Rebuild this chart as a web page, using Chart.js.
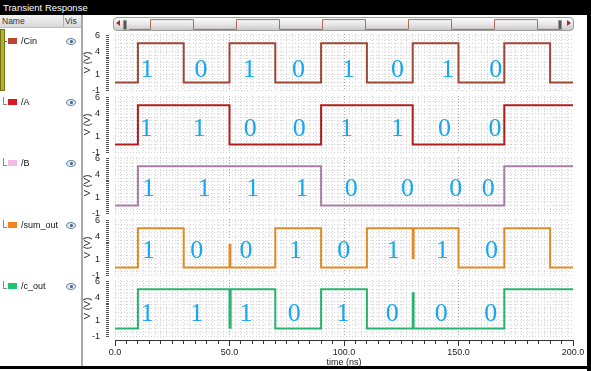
<!DOCTYPE html>
<html>
<head>
<meta charset="utf-8">
<title>Transient Response</title>
<script src="https://cdn.jsdelivr.net/npm/chart.js@4.4.1/dist/chart.umd.min.js"></script>
<style>
  html, body { margin: 0; padding: 0; background: #fff; overflow: hidden; }
  #page { position: relative; width: 591px; height: 371px; font-family: "Liberation Sans", Arial, sans-serif; }
  #page > * { position: absolute; }
  #titlebar { left: 0; top: 0; width: 591px; height: 15px; background: #000; color: #fff; font-size: 9.5px; line-height: 15px; text-indent: 3px; }
  #namehdr { left: 0; top: 15px; width: 81px; height: 12px; background: linear-gradient(#f4f4f4, #d8d8d8); border-bottom: 1px solid #bdbdbd; font-size: 8.5px; color: #333; }
  #namehdr span { position: absolute; top: 1px; }
  #namehdr .div { position: absolute; left: 63px; top: 0; width: 1px; height: 12px; background: #b0b0b0; }
  #sep { left: 81px; top: 15px; width: 2px; height: 351px; background: #a9a9a9; }
  #olive { left: 0; top: 29px; width: 3px; height: 60px; background: #b3b32c; border: 1px solid #74741a; }
  .row { left: 0; width: 80px; height: 12px; font-size: 9px; color: #111; }
  .row span { position: absolute; }
  .tree { left: 3px; top: 0; width: 3px; height: 7px; border-left: 1px solid #888; border-bottom: 1px solid #888; }
  .dash { left: 5px; top: 5px; width: 2px; height: 1px; background: #666; }
  .sw { left: 8px; top: 2px; width: 9px; height: 6px; }
  .nm { left: 21px; top: 0; line-height: 11px; }
  .eye { left: 66px; top: 2px; width: 8px; height: 5px; border: 1px solid #6f87a3; border-radius: 50%; background: #dfe8f2; }
  .eye::after { content: ""; position: absolute; left: 2.5px; top: 1px; width: 3px; height: 3px; border-radius: 50%; background: #45607e; }
  #scroll { left: 113px; top: 17px; width: 459px; height: 12px; border: 1px solid #9c9c9c; border-radius: 4px; background: linear-gradient(#fcfcfc, #e6e6e6 55%, #c9c9c9); }
  .arrowL { left: 116px; top: 20px; width: 0; height: 0; border-top: 3px solid transparent; border-bottom: 3px solid transparent; border-right: 4px solid #c02020; }
  .arrowR { left: 567px; top: 20px; width: 0; height: 0; border-top: 3px solid transparent; border-bottom: 3px solid transparent; border-left: 4px solid #c02020; }
  .grip { top: 20px; width: 2px; height: 8px; background: #555; border: 1px solid #999; }
  #rborder { left: 587px; top: 0; width: 4px; height: 371px; background: #000; }
  #bborder { left: 0; top: 366px; width: 591px; height: 3px; background: #000; }
  canvas { position: absolute; }
</style>
</head>
<body>
<div id="page">
  <div id="titlebar">Transient Response</div>
  <div id="namehdr"><span style="left:2px">Name</span><div class="div"></div><span style="left:65px">Vis</span></div>
  <div id="sep"></div>
  <div id="olive"></div>
  <div id="scroll"></div>
  <div class="arrowL"></div>
  <div class="grip" style="left:123px"></div>
  <div class="grip" style="left:558px"></div>
  <div class="arrowR"></div>
  <canvas id="mini" width="430" height="11" style="left:129px; top:19px"></canvas>
  <div id="rborder"></div>
  <div id="bborder"></div>
</div>
<script>
const timeRange = [0, 200];
const yTickLabels = [6, 4, 1, -1];
const xTickLabels = [0, 50, 100, 150, 200];
const signalNames = ['/Cin', '/A', '/B', '/sum_out', '/c_out'];

// each waveform: the time (ns) where the level changes, and the level (V) from then on
const cinTime = [0, 10, 30, 50, 70, 90, 110, 130, 150, 170, 190, 200];
const cinVolt = [0, 5, 0, 5, 0, 5, 0, 5, 0, 5, 0, 0];
const aTime = [0, 10, 50, 90, 130, 170, 200];
const aVolt = [0, 5, 0, 5, 0, 5, 5];
const bTime = [0, 10, 90, 170, 200];
const bVolt = [0, 5, 0, 5, 5];
const sumTime = [0, 10, 30, 50, 50.4, 70, 90, 110, 130, 130.4, 150, 170, 190, 200];
const sumVolt = [0, 5, 0, 2.9, 0, 5, 0, 5, 1.2, 5, 0, 5, 0, 0];
const coutTime = [0, 10, 50, 50.5, 70, 90, 110, 130, 130.4, 170, 200];
const coutVolt = [0, 5, 0.1, 5, 0, 5, 0, 4.5, 0, 5, 5];

// bits written over each trace and the time (ns) they sit at
const cinBits = ['1', '0', '1', '0', '1', '0', '1', '0'];
const cinBitTime = [14.0, 37.6, 58.6, 80.1, 102.0, 123.4, 145.3, 166.3];
const aBits = ['1', '1', '0', '0', '1', '1', '0', '0'];
const aBitTime = [13.6, 36.8, 59.1, 80.5, 101.1, 123.4, 143.9, 165.9];
const bBits = ['1', '1', '1', '1', '0', '0', '0', '0'];
const bBitTime = [14.6, 39.0, 60.1, 81.7, 103.2, 127.7, 148.8, 163.0];
const sumBits = ['1', '0', '0', '1', '0', '1', '1', '0'];
const sumBitTime = [14.6, 35.7, 57.2, 78.8, 99.9, 121.5, 142.9, 164.4];
const coutBits = ['1', '1', '1', '0', '1', '0', '0', '0'];
const coutBitTime = [14.1, 35.7, 57.2, 78.3, 99.6, 121.1, 142.5, 164.1];

Chart.defaults.font.family = '"Liberation Sans", Arial, sans-serif';
Chart.defaults.color = '#222';

const panels = [
  { t: cinTime, v: cinVolt, bits: cinBits, bitT: cinBitTime, line: '#9d4636', swatch: '#b9442f', level: 1.85 },
  { t: aTime, v: aVolt, bits: aBits, bitT: aBitTime, line: '#b01c1c', swatch: '#d61a1f', level: 2.25 },
  { t: bTime, v: bVolt, bits: bBits, bitT: bBitTime, line: '#a97ba6', swatch: '#f3bde3', level: 2.35 },
  { t: sumTime, v: sumVolt, bits: sumBits, bitT: sumBitTime, line: '#e08a25', swatch: '#f28420', level: 2.35 },
  { t: coutTime, v: coutVolt, bits: coutBits, bitT: coutBitTime, line: '#27b36c', swatch: '#1fc46e', level: 2.15 }
];

const bitLabelPlugin = {
  id: 'bitLabels',
  afterDatasetsDraw(chart, args, opts) {
    const { ctx, scales: { x, y } } = chart;
    ctx.save();
    ctx.font = '26px "Liberation Serif", serif';
    ctx.fillStyle = '#17a6ef';
    ctx.textAlign = 'center';
    ctx.textBaseline = 'alphabetic';
    opts.bits.forEach((b, k) => {
      ctx.fillText(b, x.getPixelForValue(opts.times[k]), y.getPixelForValue(opts.level) + 9);
    });
    ctx.restore();
  }
};

const page = document.getElementById('page');
const chartTops = [34, 96, 157, 219, 280];
const rowTops = [36, 97, 158, 220, 281];

panels.forEach((p, i) => {
  // name column
  const row = document.createElement('div');
  row.className = 'row';
  row.style.top = rowTops[i] + 'px';
  row.innerHTML = (i > 0 ? '<span class="tree"></span>' : '<span class="dash"></span>') +
    '<span class="sw" style="background:' + p.swatch + '"></span>' +
    '<span class="nm">' + signalNames[i] + '</span><span class="eye"></span>';
  page.appendChild(row);

  const cv = document.createElement('canvas');
  cv.width = 493; cv.height = 73;
  cv.style.left = '80px';
  cv.style.top = (chartTops[i] - 8) + 'px';
  page.appendChild(cv);

  new Chart(cv, {
    type: 'line',
    data: {
      datasets: [{
        data: p.t.map((t, k) => ({ x: t, y: p.v[k] })),
        borderColor: p.line,
        borderWidth: 2,
        pointRadius: 0,
        stepped: true,
        fill: false
      }]
    },
    options: {
      responsive: false,
      animation: false,
      events: [],
      layout: { padding: { top: 8, bottom: 8, left: 0, right: 0 } },
      plugins: {
        legend: { display: false },
        tooltip: { enabled: false },
        bitLabels: { bits: p.bits, times: p.bitT, level: p.level }
      },
      scales: {
        x: {
          type: 'linear', min: timeRange[0], max: timeRange[1],
          afterFit: s => { s.height = 0; },
          ticks: { display: false, stepSize: 2.5 },
          grid: {
            drawTicks: false,
            color: c => (c.tick && c.tick.value % 50 === 0 && c.tick.value > 0 && c.tick.value < 200) ? '#a4a4a4' : '#d3d3d3'
          },
          border: { display: false, dash: [1, 2] }
        },
        y: {
          min: -1.1, max: 6.2,
          afterFit: s => { s.width = 35; s.paddingTop = 0; s.paddingBottom = 0; },
          ticks: {
            stepSize: 0.25, autoSkip: false, includeBounds: false, padding: 6, color: '#222',
            font: { size: 9 },
            callback: v => yTickLabels.includes(v) ? String(v) : ''
          },
          grid: {
            tickLength: 9,
            tickBorderDash: [3, 20],
            tickColor: '#555',
            color: c => {
              const v = c.tick ? c.tick.value : 0.3;
              return Math.abs(v * 2 - Math.round(v * 2)) < 1e-6 ? '#d3d3d3' : 'rgba(0,0,0,0)';
            }
          },
          border: { display: false, dash: [1, 2] },
          title: { display: true, text: 'V (V)', color: '#222', font: { size: 9.5 }, padding: { top: 2, bottom: 0 } }
        }
      }
    },
    plugins: [bitLabelPlugin]
  });
});

// shared time axis under the last trace
const axisCanvas = document.createElement('canvas');
axisCanvas.width = 511; axisCanvas.height = 41;
axisCanvas.style.left = '80px';
axisCanvas.style.top = '330px';
page.insertBefore(axisCanvas, document.getElementById('bborder'));
new Chart(axisCanvas, {
  type: 'line',
  data: { datasets: [] },
  options: {
    responsive: false,
    animation: false,
    events: [],
    layout: { padding: { top: 0, bottom: 3, left: 35, right: 18 } },
    plugins: { legend: { display: false }, tooltip: { enabled: false } },
    scales: {
      x: {
        type: 'linear', min: timeRange[0], max: timeRange[1],
        afterFit: s => { s.height = 28; s.paddingLeft = 0; s.paddingRight = 0; },
        ticks: {
          stepSize: 5, autoSkip: false, maxRotation: 0, padding: 1, color: '#222',
          font: { size: 9 },
          callback: v => xTickLabels.includes(v) ? v.toFixed(1) : ''
        },
        grid: {
          drawOnChartArea: false,
          tickLength: 6,
          tickColor: '#333',
          tickBorderDash: c => (c.tick && c.tick.value % 50 === 0) ? [] : [3, 20]
        },
        border: { display: true, color: '#333', width: 1 },
        title: { display: true, text: 'time (ns)', color: '#222', font: { size: 9 }, padding: { top: 0, bottom: 0 } }
      },
      y: { display: false, min: 0, max: 1 }
    }
  }
});

// little overview of /Cin inside the scroll bar
new Chart(document.getElementById('mini'), {
  type: 'line',
  data: {
    datasets: [{
      data: cinTime.map((t, k) => ({ x: t, y: cinVolt[k] })),
      borderColor: '#b06a5e', borderWidth: 1, pointRadius: 0, stepped: true, fill: false
    }]
  },
  options: {
    responsive: false, animation: false, events: [],
    layout: { padding: 0 },
    plugins: { legend: { display: false }, tooltip: { enabled: false } },
    scales: {
      x: { type: 'linear', display: false, min: timeRange[0], max: timeRange[1] },
      y: { display: false, min: -0.3, max: 5.3 }
    }
  }
});
</script>
</body>
</html>
